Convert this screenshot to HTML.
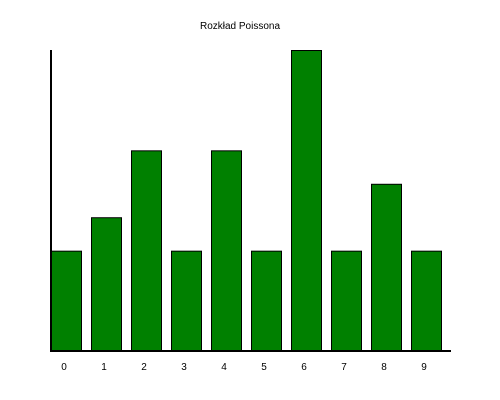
<!DOCTYPE html>
<html><head><meta charset="utf-8"><style>
body{margin:0;background:#fff;}
svg{display:block;font-family:"Liberation Sans",sans-serif;}
</style></head><body>
<svg id="chart" width="500" height="400">
<text x="240" y="29" font-size="10" text-anchor="middle">Rozkład Poissona</text>
<g id="bars"></g>
<g id="labels"></g>
<line x1="51" y1="50" x2="51" y2="351" stroke="#000" stroke-width="2"/>
<line x1="50" y1="351" x2="451" y2="351" stroke="#000" stroke-width="2"/>
</svg>
<script>
const categories = ["0","1","2","3","4","5","6","7","8","9"];
const values = [3,4,6,3,6,3,9,3,5,3];
const maxVal = 9;
const x0 = 51, step = 40, barW = 30, baseY = 351, plotH = 301;
function xs(i){ return x0 + i*step; }
function ys(v){ return baseY - v/maxVal*plotH; }
const ns="http://www.w3.org/2000/svg";
const gb=document.getElementById('bars'), gl=document.getElementById('labels');
values.forEach((v,i)=>{
  const r=document.createElementNS(ns,'rect');
  r.setAttribute('x',xs(i)+0.5);
  r.setAttribute('y',ys(v)+0.5);
  r.setAttribute('width',barW);
  r.setAttribute('height',baseY-ys(v));
  r.setAttribute('fill','#008000');
  r.setAttribute('stroke','#000');
  r.setAttribute('stroke-width','1');
  
  
  gb.appendChild(r);
  const t=document.createElementNS(ns,'text');
  t.setAttribute('x',xs(i)+barW/2-2);
  t.setAttribute('y',370);
  t.setAttribute('font-size','10');
  t.setAttribute('text-anchor','middle');
  t.textContent=categories[i];
  
  
  gl.appendChild(t);
});
</script>
</body></html>
